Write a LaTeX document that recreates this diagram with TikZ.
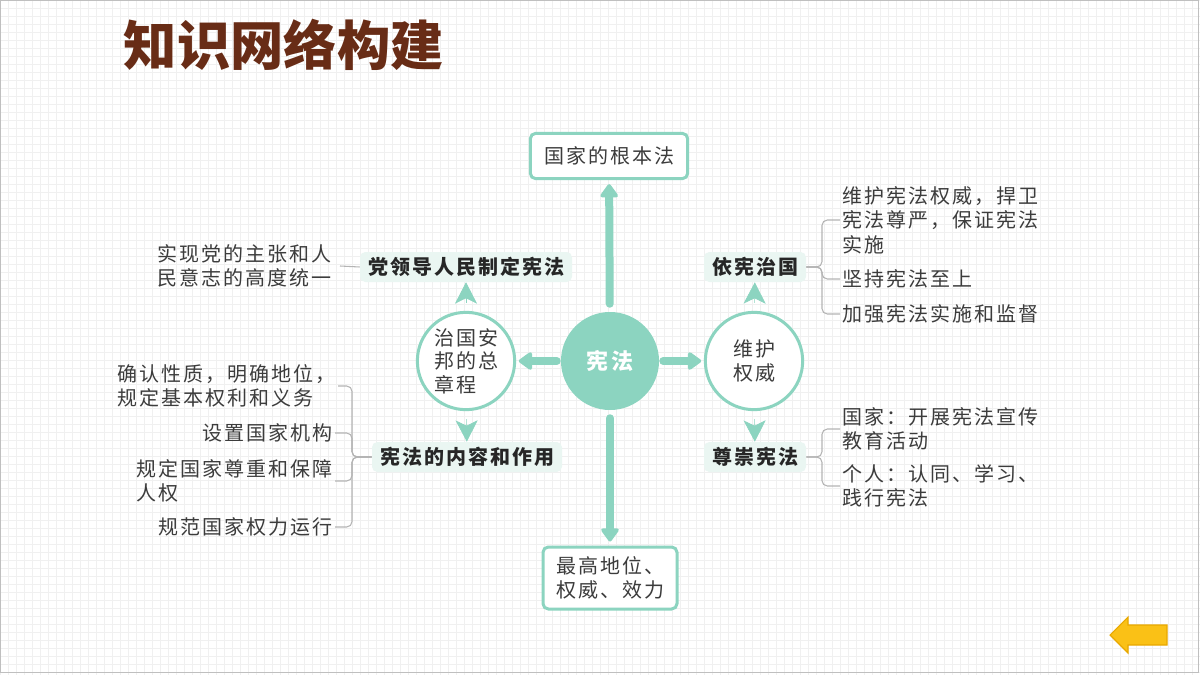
\documentclass[tikz,border=0pt]{standalone}
\usepackage{fontspec}
\setmainfont{Noto Sans CJK SC}
\newfontfamily\bodyfont[LetterSpace=10]{Noto Sans CJK SC}
\usepackage{xcolor}
\usetikzlibrary{arrows.meta,positioning}
\definecolor{mint}{RGB}{140,212,192}
\definecolor{mintlight}{RGB}{234,246,242}
\definecolor{titlebrown}{RGB}{104,44,22}
\definecolor{textgray}{RGB}{60,60,60}
\definecolor{linegray}{RGB}{180,180,180}
\definecolor{arrowyellow}{RGB}{250,193,22}
\definecolor{arrowedge}{RGB}{232,168,0}

\begin{document}
\begin{tikzpicture}[x=0.75pt, y=-0.75pt,
  body/.style={font=\bodyfont\fontsize{15pt}{18.5pt}\selectfont, text=textgray, inner sep=0pt},
  boxnode/.style={body, draw=mint, line width=2.25pt, rounded corners=4pt, fill=white},
  hub/.style={circle, fill=mint, minimum size=73.5pt, inner sep=0pt, text=white,
    font=\bodyfont\bfseries\fontsize{16.5pt}{20pt}\selectfont},
  ring/.style={body, circle, draw=mint, line width=2.25pt, fill=white, minimum size=73pt,
    align=left, font=\bodyfont\fontsize{15pt}{17.6pt}\selectfont},
  tag/.style={body, fill=mintlight, rounded corners=4pt, inner xsep=6pt, minimum height=22.5pt,
    text=black!85, font=\bodyfont\bfseries\fontsize{15pt}{18.5pt}\selectfont},
  bigarrow/.style={mint, line width=6pt, line cap=round, -{Triangle[width=15pt, length=11pt, round]}},
  smallarrow/.style={mint, line width=0.5pt, -{Stealth[width=16.5pt, length=16pt, inset=4pt]}},
  leader/.style={linegray, line width=0.8pt, rounded corners=4pt},
  leaf/.style={body, align=left, inner xsep=2pt}]
  \useasboundingbox (0,0) rectangle (1200,675);
  % background
  \fill[white] (0,0) rectangle (1200,675);
  \foreach \gx in {0,8,...,1200}
    \draw[black!6, line width=0.3pt] (\gx,0) -- (\gx,675);
  \foreach \gy in {0,8,...,675}
    \draw[black!6, line width=0.3pt] (0,\gy) -- (1200,\gy);
  \draw[black!25, line width=0.6pt] (0,0) rectangle (1198,672);
  % title
  \node[anchor=west, text=titlebrown, font=\bfseries\fontsize{40pt}{44pt}\selectfont] (ttl) at (119,45) {知识网络构建};

  % centre and branches
  \node[hub] (xf) at (610,361) {宪法};
  \node[ring] (zg) at (466,361) {治国安\\邦的总\\章程};
  \node[ring] (wh) at (754,361) {维护\\权威};
  \node[boxnode, minimum width=118pt, minimum height=34pt] (gj) at (609,156) {国家的根本法};
  \node[boxnode, align=left, minimum width=100.5pt, minimum height=46.5pt] (zg2) at (610,578) {最高地位、\\权威、效力};

  \draw[bigarrow, shorten <=6pt, shorten >=3pt] (xf) -- (gj);
  \draw[bigarrow, shorten <=6pt, shorten >=3pt] (xf) -- (zg2);
  \draw[bigarrow, shorten <=3pt, shorten >=2pt] (xf) -- (zg);
  \draw[bigarrow, shorten <=3pt, shorten >=2pt] (xf) -- (wh);

  % tags round the two rings
  \node[tag] (dl) at (466,267) {党领导人民制定宪法};
  \node[tag] (nr) at (467,457) {宪法的内容和作用};
  \node[tag] (yx) at (755,267) {依宪治国};
  \node[tag] (zc) at (755,457) {尊崇宪法};

  \draw[smallarrow, shorten <=6pt] (zg) -- (dl);
  \draw[smallarrow, shorten <=6pt] (zg) -- (nr);
  \draw[smallarrow, shorten <=6pt] (wh) -- (yx);
  \draw[smallarrow, shorten <=6pt] (wh) -- (zc);

  % left leaves
  \node[leaf, anchor=east, inner xsep=6pt] (dl1) at (340,266) {实现党的主张和人\\民意志的高度统一};
  \draw[leader] (dl.west) -- (dl1.east);

  \coordinate (nrfork) at (352,457);
  \node[leaf, anchor=east] (nr1) at (338,386) {确认性质，明确地位，\\规定基本权利和义务};
  \node[leaf, anchor=east] (nr2) at (335,433) {设置国家机构};
  \node[leaf, anchor=east] (nr3) at (335,481) {规定国家尊重和保障\\人权};
  \node[leaf, anchor=east] (nr4) at (335,527) {规范国家权力运行};
  \foreach \n in {nr1,nr2,nr3,nr4}
    \draw[leader] (nr.west) -- (nrfork) |- (\n.east);

  % right leaves
  \coordinate (yxfork) at (822,267);
  \node[leaf, anchor=west] (yx1) at (840,220) {维护宪法权威，捍卫\\宪法尊严，保证宪法\\实施};
  \node[leaf, anchor=west] (yx2) at (840,279) {坚持宪法至上};
  \node[leaf, anchor=west] (yx3) at (840,314) {加强宪法实施和监督};
  \foreach \n in {yx1,yx2,yx3}
    \draw[leader] (yx.east) -- (yxfork) |- (\n.west);

  \coordinate (zcfork) at (822,457);
  \node[leaf, anchor=west] (zc1) at (840,429) {国家：开展宪法宣传\\教育活动};
  \node[leaf, anchor=west] (zc2) at (840,486) {个人：认同、学习、\\践行宪法};
  \foreach \n in {zc1,zc2}
    \draw[leader] (zc.east) -- (zcfork) |- (\n.west);

  % back button
  \filldraw[fill=arrowyellow, draw=arrowedge, line width=0.8pt]
    (1110,635) -- (1128,617) -- (1128,625) -- (1167,625) -- (1167,645) -- (1128,645) -- (1128,653) -- cycle;
\end{tikzpicture}
\end{document}
